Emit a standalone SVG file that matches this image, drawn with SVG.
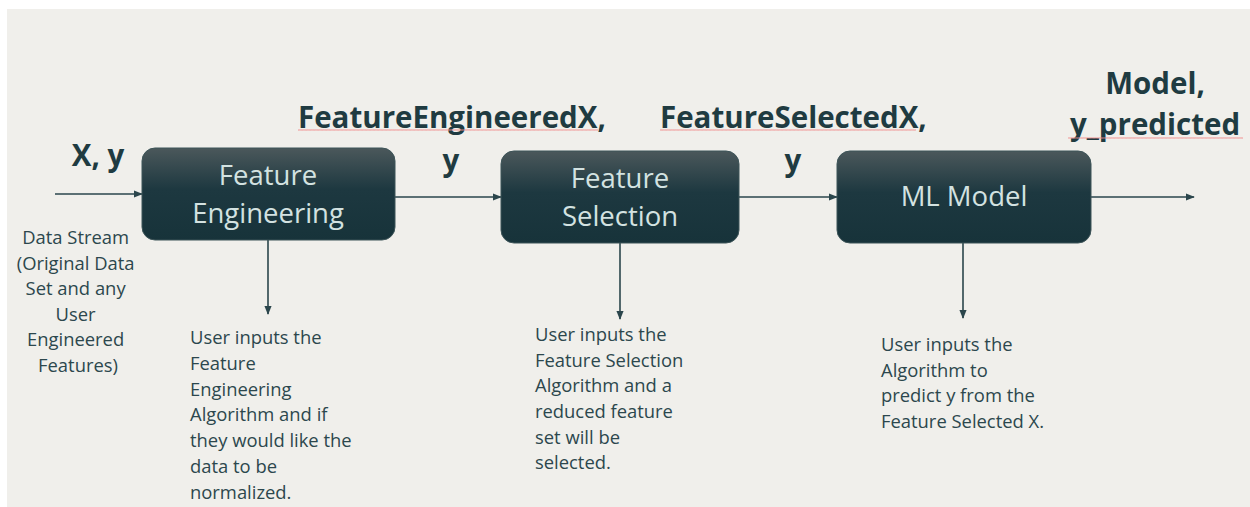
<svg xmlns="http://www.w3.org/2000/svg" width="1250" height="507" viewBox="0 0 1250 507">
  <defs>
    <linearGradient id="boxFill" x1="0" y1="0" x2="0" y2="1">
      <stop offset="0" stop-color="#4b585b"/>
      <stop offset="0.45" stop-color="#1d3840"/>
      <stop offset="1" stop-color="#17333a"/>
    </linearGradient>
    <marker id="arrow" viewBox="0 0 10 10" refX="9" refY="5" markerWidth="9" markerHeight="9" markerUnits="userSpaceOnUse" orient="auto">
      <path d="M0,1 L10,5 L0,9 Z" fill="#2b464c"/>
    </marker>
    <pattern id="squiggle" width="4" height="4" patternUnits="userSpaceOnUse">
      <path d="M0,3 L1,1 L2,3 L3,1 L4,3" fill="none" stroke="#f08a8a" stroke-width="0.8"/>
    </pattern>
    <style>
      .box { fill: url(#boxFill); stroke: #3d5458; stroke-width: 1; }
      .boxText { font-family: "Open Sans", "Liberation Sans", sans-serif; font-size: 27.5px; fill: #d3e2e1; text-anchor: middle; }
      .flow { font-family: "Open Sans", "Liberation Sans", sans-serif; font-weight: bold; font-size: 29.5px; fill: #1f3b41; }
      .note { font-family: "Open Sans", "Liberation Sans", sans-serif; font-size: 18.4px; fill: #2c474d; }
      .link { stroke: #2b464c; stroke-width: 1.6; fill: none; marker-end: url(#arrow); }
      .spell { fill: url(#squiggle); opacity: 0.7; }
    </style>
  </defs>

  <!-- page -->
  <rect x="0" y="0" width="1250" height="507" fill="#ffffff"/>
  <rect x="7" y="9" width="1243" height="498" fill="#f0efeb"/>

  <!-- connectors -->
  <g id="connectors">
    <line class="link" x1="55" y1="194" x2="142" y2="194"/>
    <line class="link" x1="395" y1="197" x2="501" y2="197"/>
    <line class="link" x1="739" y1="197" x2="837" y2="197"/>
    <line class="link" x1="1091" y1="197" x2="1194" y2="197"/>
    <line class="link" x1="268" y1="240" x2="268" y2="314"/>
    <line class="link" x1="620" y1="243" x2="620" y2="319"/>
    <line class="link" x1="963" y1="243" x2="963" y2="318"/>
  </g>

  <!-- flow labels -->
  <g id="flow-labels">
    <text class="flow" x="98" y="166" text-anchor="middle">X, y</text>
    <text class="flow" x="298" y="128">FeatureEngineeredX,</text>
    <rect class="spell" x="298" y="129" width="300" height="4"/>
    <text class="flow" x="451" y="171" text-anchor="middle">y</text>
    <text class="flow" x="660" y="128">FeatureSelectedX,</text>
    <rect class="spell" x="660" y="129" width="256" height="4"/>
    <text class="flow" x="793" y="171" text-anchor="middle">y</text>
    <text class="flow" x="1155" y="94" text-anchor="middle">Model,</text>
    <text class="flow" x="1155" y="135" text-anchor="middle">y_predicted</text>
    <rect class="spell" x="1068" y="136" width="175" height="4"/>
  </g>

  <!-- input description -->
  <g id="data-stream">
    <text class="note" x="78" y="244" text-anchor="middle">
      <tspan x="78" y="244">Data Stream</tspan>
      <tspan x="78" y="270">(Original Data</tspan>
      <tspan x="78" y="295">Set and any</tspan>
      <tspan x="78" y="321">User</tspan>
      <tspan x="78" y="346">Engineered</tspan>
      <tspan x="78" y="372">Features)</tspan>
    </text>
  </g>

  <!-- Feature Engineering -->
  <g id="feature-engineering">
    <rect class="box" x="142" y="148" width="253" height="92" rx="13"/>
    <text class="boxText" x="268" y="185">Feature</text>
    <text class="boxText" x="268" y="223">Engineering</text>
  </g>
  <g id="feature-engineering-note">
    <text class="note" x="190" y="344">
      <tspan x="190" y="344">User inputs the</tspan>
      <tspan x="190" y="370">Feature</tspan>
      <tspan x="190" y="396">Engineering</tspan>
      <tspan x="190" y="421">Algorithm and if</tspan>
      <tspan x="190" y="447">they would like the</tspan>
      <tspan x="190" y="473">data to be</tspan>
      <tspan x="190" y="499">normalized.</tspan>
    </text>
  </g>

  <!-- Feature Selection -->
  <g id="feature-selection">
    <rect class="box" x="501" y="151" width="238" height="92" rx="13"/>
    <text class="boxText" x="620" y="188">Feature</text>
    <text class="boxText" x="620" y="226">Selection</text>
  </g>
  <g id="feature-selection-note">
    <text class="note" x="535" y="341">
      <tspan x="535" y="341">User inputs the</tspan>
      <tspan x="535" y="367">Feature Selection</tspan>
      <tspan x="535" y="392">Algorithm and a</tspan>
      <tspan x="535" y="418">reduced feature</tspan>
      <tspan x="535" y="444">set will be</tspan>
      <tspan x="535" y="469">selected.</tspan>
    </text>
  </g>

  <!-- ML Model -->
  <g id="ml-model">
    <rect class="box" x="837" y="151" width="254" height="92" rx="13"/>
    <text class="boxText" x="964" y="206">ML Model</text>
  </g>
  <g id="ml-model-note">
    <text class="note" x="881" y="351">
      <tspan x="881" y="351">User inputs the</tspan>
      <tspan x="881" y="377">Algorithm to</tspan>
      <tspan x="881" y="402">predict y from the</tspan>
      <tspan x="881" y="428">Feature Selected X.</tspan>
    </text>
  </g>
</svg>
